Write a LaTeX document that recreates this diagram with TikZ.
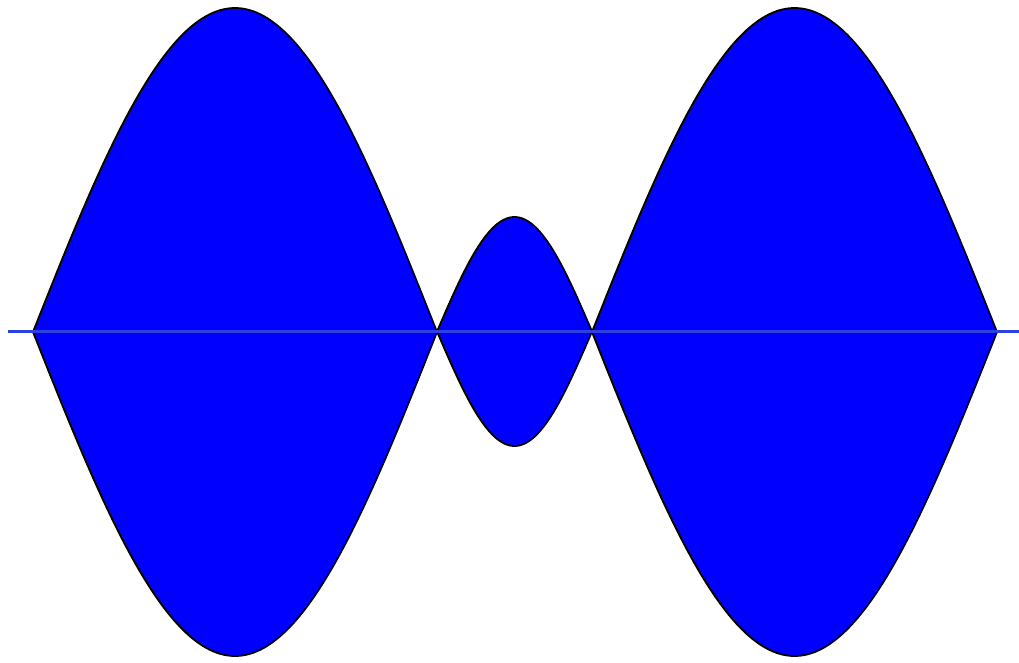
\documentclass[tikz,border=0pt]{standalone}
\begin{document}
\begin{tikzpicture}[x=1pt,y=-1pt,
  lobe/.style={fill={rgb,255:red,0;green,0;blue,255},draw=black,line width=1.8pt,line join=round},
  axisline/.style={draw={rgb,255:red,45;green,65;blue,225},line width=3.2pt}]
\useasboundingbox (0,0) rectangle (1019,662);
% left lobe
\path[lobe] plot[domain=0:1,samples=120,smooth] ({33+404*\x},{332-324*sin(180*\x)})
  -- plot[domain=1:0,samples=120,smooth] ({33+404*\x},{332+324*sin(180*\x)}) -- cycle;
% middle lobe
\path[lobe] plot[domain=0:1,samples=80,smooth] ({437+155*\x},{331.5-114.5*sin(180*\x)})
  -- plot[domain=1:0,samples=80,smooth] ({437+155*\x},{331.5+114.5*sin(180*\x)}) -- cycle;
% right lobe
\path[lobe] plot[domain=0:1,samples=120,smooth] ({592+405*\x},{332-324*sin(180*\x)})
  -- plot[domain=1:0,samples=120,smooth] ({592+405*\x},{332+324*sin(180*\x)}) -- cycle;
\coordinate (L) at (8,331.5);
\coordinate (R) at (1019,331.5);
\draw[axisline] (L) -- (R);
\end{tikzpicture}
\end{document}
